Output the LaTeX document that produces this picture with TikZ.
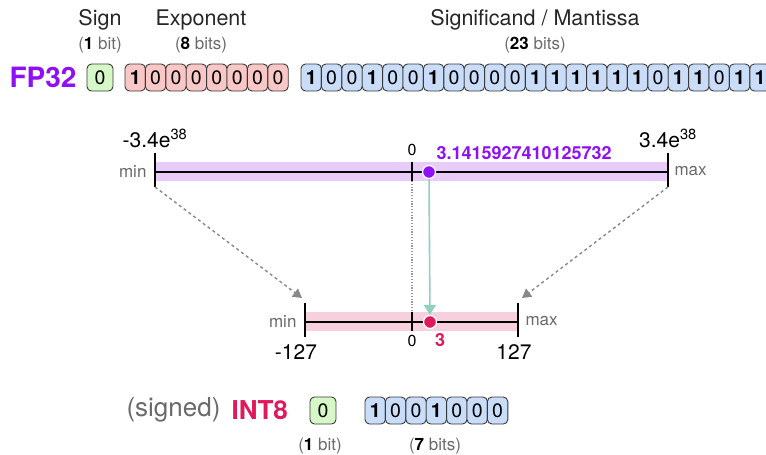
\documentclass[tikz,border=0pt]{standalone}
\usepackage{fontspec}
\setmainfont{TeX Gyre Heros}
\usetikzlibrary{arrows.meta}
\definecolor{fpviolet}{HTML}{9010F5}
\definecolor{intred}{HTML}{E0195C}
\definecolor{bandviolet}{HTML}{E8CBF8}
\definecolor{bandpink}{HTML}{F6D0DD}
\definecolor{signgreen}{HTML}{D6F7C8}
\definecolor{exppink}{HTML}{F9C8C6}
\definecolor{manblue}{HTML}{C9DCF8}
\definecolor{edgegray}{HTML}{3A3A3A}
\definecolor{labgray}{HTML}{6A6A6A}
\definecolor{tealarrow}{HTML}{8FD0BE}
\newcommand{\bitlabel}[1]{\ifnum#1=1 \textbf{1}\else 0\fi}
\begin{document}
\begin{tikzpicture}[x=1pt,y=-1pt,
  bitbox/.style={draw=edgegray, line width=0.9pt, rounded corners=4.5pt,
    minimum width=20.4pt, minimum height=27pt, inner sep=0pt,
    font=\fontsize{19.5}{19.5}\selectfont},
  signbox/.style={bitbox, minimum width=26pt, fill=signgreen},
  head/.style={font=\fontsize{21.5}{21.5}\selectfont, text=black!85},
  sub/.style={font=\fontsize{17}{17}\selectfont, text=labgray},
  endlab/.style={font=\fontsize{17}{17}\selectfont, text=labgray},
  numlab/.style={font=\fontsize{21}{21}\selectfont},
  tick/.style={line width=1.7pt, black},
  axis/.style={line width=1.5pt, black},
  dashedarrow/.style={draw=labgray!80, line width=1.4pt,
    dash pattern=on 3pt off 3pt, -{Triangle[length=9pt,width=10pt]}},
  dot/.style={circle, draw=white, line width=1.3pt, minimum size=13pt, inner sep=0pt}
]
\useasboundingbox (0,0) rectangle (766,455);
\clip (0,0) rectangle (766,455);

% ---------- FP32 header ----------
\node[head] (hsign) at (100,20) {Sign};
\node[sub] (ssign) at (100,45) {(\textbf{\color{black}1} bit)};
\node[head] (hexp) at (201,20) {Exponent};
\node[sub] (sexp) at (201,45) {(\textbf{\color{black}8} bits)};
\node[head] (hman) at (535,20) {Significand / Mantissa};
\node[sub] (sman) at (535,45) {(\textbf{\color{black}23} bits)};

\node[font=\fontsize{28}{28}\selectfont\bfseries, text=fpviolet] (fp32) at (43,77) {FP32};
\node[signbox] (fsign) at (100,77.5) {0};
\foreach \b [count=\i from 0] in {1,0,0,0,0,0,0,0}
  \node[bitbox, fill=exppink] (e\i) at ({135.2+20.4*\i},77.5) {\bitlabel{\b}};
\foreach \b [count=\i from 0] in {1,0,0,1,0,0,1,0,0,0,0,1,1,1,1,1,1,0,1,1,0,1,1}
  \node[bitbox, fill=manblue] (m\i) at ({311.2+20.4*\i},77.5) {\bitlabel{\b}};

% ---------- FP32 range ----------
\fill[bandviolet] (155,162) rectangle (668,181);
\coordinate (tminA) at (155,153);
\coordinate (tminB) at (155,187);
\coordinate (tmaxA) at (668,153);
\coordinate (tmaxB) at (668,187);
\coordinate (tzA) at (412,162);
\coordinate (tzB) at (412,181);
\draw[axis] (155,172) -- (668,172);
\draw[tick] (tminA) -- (tminB);
\draw[tick] (tmaxA) -- (tmaxB);
\draw[tick] (tzA) -- (tzB);
\node[numlab, anchor=south] (fmin) at (155,151) {-3.4e\textsuperscript{38}};
\node[numlab, anchor=south] (fmax) at (668,151) {3.4e\textsuperscript{38}};
\node[endlab, anchor=east] (fminl) at (150,171) {min};
\node[endlab, anchor=west] (fmaxl) at (671,171) {max};
\node[font=\fontsize{16}{16}\selectfont] (fzero) at (412,150) {0};
\node[font=\fontsize{18}{18}\selectfont\bfseries, text=fpviolet, anchor=west] (pival) at (433,153) {3.1415927410125732};

% ---------- INT8 range ----------
\fill[bandpink] (305,312) rectangle (518,331);
\coordinate (bminA) at (305,303);
\coordinate (bminB) at (305,337);
\coordinate (bmaxA) at (518,303);
\coordinate (bmaxB) at (518,337);
\coordinate (bzA) at (412,312);
\coordinate (bzB) at (412,331);
\draw[axis] (305,322) -- (518,322);
\draw[tick] (bminA) -- (bminB);
\draw[tick] (bmaxA) -- (bmaxB);
\draw[tick] (bzA) -- (bzB);
\node[numlab] (imin) at (296,352) {-127};
\node[numlab] (imax) at (514,352) {127};
\node[endlab, anchor=east] (iminl) at (300,321) {min};
\node[endlab, anchor=west] (imaxl) at (522,321) {max};
\node[font=\fontsize{16}{16}\selectfont] (izero) at (412,341) {0};
\node[font=\fontsize{18}{18}\selectfont\bfseries, text=intred] (ival) at (440,340) {3};

% connectors
\coordinate (darrL) at (302,298);
\coordinate (darrR) at (522,298);
\draw[dashedarrow] (tminB) -- (darrL);
\draw[dashedarrow] (tmaxB) -- (darrR);
\draw[labgray!70, line width=1.2pt, dash pattern=on 1.2pt off 1.6pt] (tzB) -- (bzA);

\node[dot, fill=fpviolet] (pdot) at (429,172) {};
\node[dot, fill=intred] (idot) at (430,322) {};
\draw[tealarrow, line width=1.6pt, -{Triangle[length=10pt,width=12pt]}] (pdot) -- (idot);

% ---------- INT8 bits ----------
\node[font=\fontsize{26}{26}\selectfont, text=labgray, anchor=east] (signed) at (224,410) {(signed)};
\node[font=\fontsize{26}{26}\selectfont\bfseries, text=intred, anchor=west] (int8) at (228,410) {INT8};
\node[signbox] (isign) at (323,410.5) {0};
\foreach \b [count=\i from 0] in {1,0,0,1,0,0,0}
  \node[bitbox, fill=manblue] (b\i) at ({375.2+20.4*\i},410.5) {\bitlabel{\b}};
\node[sub] (isub1) at (320,446) {(\textbf{\color{black}1} bit)};
\node[sub] (isub7) at (435,446) {(\textbf{\color{black}7} bits)};
\end{tikzpicture}
\end{document}
